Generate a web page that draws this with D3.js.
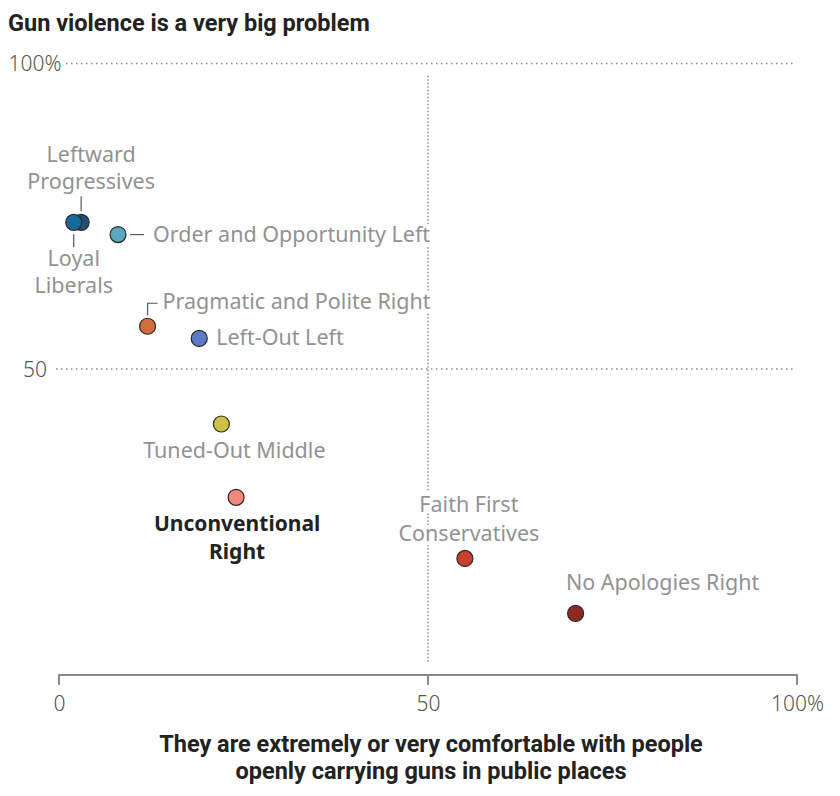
<!DOCTYPE html>
<html>
<head>
<meta charset="utf-8">
<script src="https://cdn.jsdelivr.net/npm/d3@7"></script>
<style>
  body { margin: 0; background: #fff; }
  text { font-family: "Noto Sans", Roboto, sans-serif; }
</style>
</head>
<body>
<script>
// values
var groups = ["Leftward Progressives", "Loyal Liberals", "Order and Opportunity Left",
  "Pragmatic and Polite Right", "Left-Out Left", "Tuned-Out Middle",
  "Unconventional Right", "Faith First Conservatives", "No Apologies Right"];
var comfortable = [3, 2, 8, 12, 19, 22, 24, 55, 70];   // x: comfortable with open carry
var bigProblem = [74, 74, 72, 57, 55, 41, 29, 19, 10];  // y: gun violence very big problem
var colors = ["#1d4f7c", "#17689c", "#5aa7bf", "#d26d3d", "#5b7cc3",
  "#cec147", "#f0887b", "#c7402d", "#8c2a21"];
var xTicks = [0, 50, 100];
var yTicks = [50, 100];

// label layout: line texts, offsets from the dot, anchor, leader
var labels = [
  { lines: ["Leftward", "Progressives"], dx: 10, dy: [-60, -33], anchor: "middle", leader: [[0, -26], [0, -11]] },
  { lines: ["Loyal", "Liberals"], dx: 0, dy: [44, 71], anchor: "middle", leader: [[0, 12], [0, 25]] },
  { lines: ["Order and Opportunity Left"], dx: 35, dy: [7], anchor: "start", leader: [[12, 0], [26, 0]] },
  { lines: ["Pragmatic and Polite Right"], dx: 15, dy: [-17], anchor: "start", leader: [[0, -11], [0, -23], [10, -23]] },
  { lines: ["Left-Out Left"], dx: 17, dy: [7], anchor: "start" },
  { lines: ["Tuned-Out Middle"], dx: 13, dy: [34], anchor: "middle" },
  { lines: ["Unconventional", "Right"], dx: 1, dy: [34, 62], anchor: "middle", bold: true },
  { lines: ["Faith First", "Conservatives"], dx: 4, dy: [-46, -17], anchor: "middle" },
  { lines: ["No Apologies Right"], dx: 87, dy: [-23], anchor: "middle" }
];

var width = 840, height = 796;

var svg = d3.select("body").append("svg")
  .attr("width", width)
  .attr("height", height);

var x = d3.scaleLinear().domain([0, 100]).range([59, 797]);
var y = d3.scaleLinear().domain([0, 100]).range([674.5, 63.5]);

// title
svg.append("text")
  .attr("x", 8).attr("y", 31)
  .style("font-family", "Roboto, sans-serif")
  .style("font-size", "23.5px").style("font-weight", 700)
  .style("fill", "#222")
  .text("Gun violence is a very big problem");

// horizontal dotted gridlines
svg.selectAll(".grid")
  .data(yTicks)
  .enter().append("line")
  .attr("x1", 56).attr("x2", 795)
  .attr("y1", function(d) { return y(d); })
  .attr("y2", function(d) { return y(d); })
  .style("stroke", "#8a8a8a")
  .style("stroke-width", 1.5)
  .style("stroke-dasharray", "1.5,3.5");

// vertical dotted line at 50
svg.append("line")
  .attr("x1", x(50)).attr("x2", x(50))
  .attr("y1", y(98)).attr("y2", y(2))
  .style("stroke", "#8a8a8a")
  .style("stroke-width", 1.5)
  .style("stroke-dasharray", "1.5,2");

// y tick labels
svg.selectAll(".ylab")
  .data(yTicks)
  .enter().append("text")
  .attr("x", 35)
  .attr("y", function(d) { return y(d) + 7.5; })
  .attr("text-anchor", "middle")
  .style("font-size", "21px").style("font-weight", 300)
  .style("fill", "#555")
  .style("stroke", "#fff").style("stroke-width", 8)
  .style("paint-order", "stroke")
  .text(function(d) { return d == 100 ? "100%" : d; });

// x axis
var xAxis = d3.axisBottom(x)
  .tickValues(xTicks)
  .tickSize(10)
  .tickFormat(function(d) { return d == 100 ? "100%" : d; });

var gx = svg.append("g")
  .attr("transform", "translate(0," + 675 + ")")
  .call(xAxis);
gx.select(".domain").attr("d", "M" + x(0) + ",10V0H" + x(100) + "V10")
  .style("stroke", "#8a8a8a").style("stroke-width", 2);
gx.selectAll(".tick line").remove();
gx.selectAll(".tick text")
  .attr("y", 21)
  .style("font-size", "21px").style("font-weight", 300)
  .style("fill", "#555")
  .style("font-family", "'Noto Sans', sans-serif");
gx.append("line")
  .attr("x1", x(50)).attr("x2", x(50))
  .attr("y1", 0).attr("y2", 10)
  .style("stroke", "#8a8a8a").style("stroke-width", 2);

// x axis title
var axisTitle = ["They are extremely or very comfortable with people",
  "openly carrying guns in public places"];
svg.selectAll(".xtitle")
  .data(axisTitle)
  .enter().append("text")
  .attr("x", 431)
  .attr("y", function(d, i) { return 752 + i * 27; })
  .attr("text-anchor", "middle")
  .style("font-family", "Roboto, sans-serif")
  .style("font-size", "23.5px").style("font-weight", 700)
  .style("fill", "#222")
  .text(function(d) { return d; });

// labels
var line = d3.line();
labels.forEach(function(lab, i) {
  var px = x(comfortable[i]), py = y(bigProblem[i]);
  var g = svg.append("g");
  if (lab.leader) {
    g.append("path")
      .attr("d", line(lab.leader.map(function(p) { return [px + p[0], py + p[1]]; })))
      .style("fill", "none").style("stroke", "#555").style("stroke-width", 1.2);
  }
  lab.lines.forEach(function(t, j) {
    g.append("text")
      .attr("x", px + lab.dx)
      .attr("y", py + lab.dy[j])
      .attr("text-anchor", lab.anchor)
      .style("font-size", lab.bold ? "21px" : "21.5px")
      .style("font-weight", lab.bold ? 700 : 400)
      .style("fill", lab.bold ? "#222" : "#929292")
      .style("stroke", "#fff").style("stroke-width", 8)
      .style("stroke-linejoin", "round")
      .style("paint-order", "stroke")
      .text(t);
  });
});

// dots
var order = d3.range(groups.length);
svg.selectAll(".dot")
  .data(order)
  .enter().append("circle")
  .attr("cx", function(i) { return x(comfortable[i]); })
  .attr("cy", function(i) { return y(bigProblem[i]); })
  .attr("r", 8)
  .style("fill", function(i) { return colors[i]; })
  .style("stroke", "#2a2a2a")
  .style("stroke-width", 1.2);
</script>
</body>
</html>
